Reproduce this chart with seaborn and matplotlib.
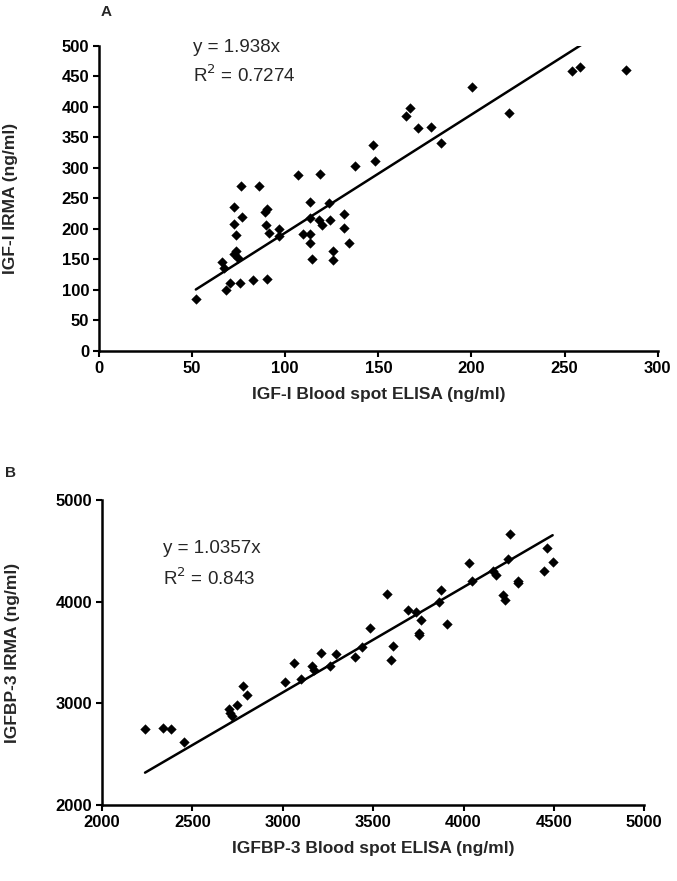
import numpy as np
import pandas as pd
import matplotlib
matplotlib.use("Agg")
import matplotlib.pyplot as plt
import seaborn as sns

# panel A: IGF-I (ng/ml)
igf1_elisa = [52, 66, 67, 68, 70.5, 75.5, 82.5, 90, 72.6, 72.5, 76.6, 73.5, 76.4, 85.7,
              90.2, 89.3, 89.6, 91.4, 73.5, 72.6, 74.4, 96.8, 96.8, 106.6, 118.6, 113.4,
              123.6, 113.4, 118.3, 120, 124, 109.3, 113.4, 113.3, 114.2, 125.4, 125.4,
              131.7, 131.7, 134.4, 137.6, 146.9, 148.2, 164.8, 167.1, 171.2, 178.4, 183.6,
              200.5, 219.9, 253.9, 258.2, 283.2]
igf1_irma = [86, 146, 136, 100, 112, 112, 116, 118, 236, 208, 220, 190, 271, 271,
             233, 228, 206, 193, 164, 159, 153, 200, 189, 289, 290, 245,
             243, 218, 215, 206, 214, 192, 192, 177, 150, 164, 149,
             225, 201, 177, 304, 338, 312, 385, 399, 365, 367, 341,
             433, 390, 459, 466, 461]
slope_a = 1.938
r2_a = "0.7274"

# panel B: IGFBP-3 (ng/ml)
bp3_elisa = [2238, 2336, 2382, 2454, 2704, 2717, 2710, 2748, 2778, 2800, 3012, 3064,
             3099, 3163, 3174, 3212, 3259, 3294, 3399, 3436, 3482, 3575, 3612, 3598,
             3691, 3737, 3764, 3755, 3755, 3873, 3866, 3906, 4030, 4048, 4165, 4178,
             4257, 4247, 4303, 4300, 4220, 4229, 4459, 4493, 4446]
bp3_irma = [2744, 2754, 2744, 2617, 2944, 2875, 2905, 2983, 3173, 3082, 3212, 3393,
            3236, 3370, 3327, 3492, 3364, 3482, 3458, 3551, 3744, 4072, 3563, 3426,
            3917, 3895, 3819, 3694, 3672, 4114, 3993, 3777, 4383, 4202, 4305, 4262,
            4665, 4419, 4180, 4200, 4065, 4016, 4524, 4386, 4301]
slope_b = 1.0357
r2_b = "0.843"

sns.set_style("ticks")
plt.rcParams['font.family'] = ['Liberation Sans', 'DejaVu Sans']

fig = plt.figure(figsize=(6.77, 8.81), dpi=100)
ax_a = fig.add_axes([0.1462, 0.6016, 0.8253, 0.3462])
ax_b = fig.add_axes([0.1507, 0.0863, 0.8010, 0.3462])

df_a = pd.DataFrame({'elisa': igf1_elisa, 'irma': igf1_irma})
df_b = pd.DataFrame({'elisa': bp3_elisa, 'irma': bp3_irma})


def panel(ax, df, slope, r2, xlim, ylim, xstep, ystep, xlab, ylab, tx, ty, dy):
    sns.scatterplot(data=df, x='elisa', y='irma', ax=ax, marker='D', color='black',
                    s=24, edgecolor='black', linewidth=0.3, zorder=3)
    lx = np.array([df['elisa'].min(), df['elisa'].max()])
    ax.plot(lx, slope * lx, color='black', lw=1.8, zorder=2)
    ax.set_xlim(*xlim)
    ax.set_ylim(*ylim)
    ax.set_xticks(np.arange(xlim[0], xlim[1] + 1, xstep))
    ax.set_yticks(np.arange(ylim[0], ylim[1] + 1, ystep))
    for s in ['top', 'right']:
        ax.spines[s].set_visible(False)
    for s in ['left', 'bottom']:
        ax.spines[s].set_linewidth(1.8)
        ax.spines[s].set_color('black')
    ax.tick_params(direction='out', length=4, width=1.5, colors='black',
                   labelsize=12, pad=3)
    for lab in ax.get_xticklabels() + ax.get_yticklabels():
        lab.set_fontweight('bold')
    ax.set_xlabel(xlab, fontsize=12.5, fontweight='bold', labelpad=8)
    ax.set_ylabel(ylab, fontsize=12.5, fontweight='bold', labelpad=6)
    ax.text(tx, ty, f"y = {slope}x", fontsize=13.5, va='center', ha='left')
    ax.text(tx, ty - dy, f"R$^2$ = {r2}", fontsize=13.5, va='center', ha='left')


panel(ax_a, df_a, slope_a, r2_a, (0, 300), (0, 500), 50, 50,
      'IGF-I Blood spot ELISA (ng/ml)', 'IGF-I IRMA (ng/ml)', 50.5, 498, 46)
panel(ax_b, df_b, slope_b, r2_b, (2000, 5000), (2000, 5000), 500, 1000,
      'IGFBP-3 Blood spot ELISA (ng/ml)', 'IGFBP-3 IRMA (ng/ml)', 2337, 4527, 295)

ax_a.yaxis.set_label_coords(-0.145, 0.5)
ax_b.yaxis.set_label_coords(-0.152, 0.5)

fig.text(0.148, 0.986, 'A', fontsize=11, fontweight='bold', va='center')
fig.text(0.008, 0.463, 'B', fontsize=11, fontweight='bold', va='center')

fig.savefig('out.png', dpi=100)
